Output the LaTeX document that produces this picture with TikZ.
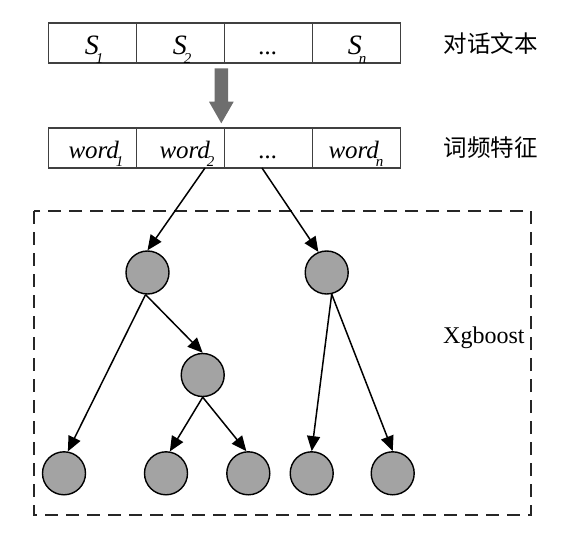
\documentclass[tikz,border=0pt]{standalone}
\usepackage{fontspec}
\setmainfont{Liberation Serif}
\newfontfamily\cjk{Noto Sans CJK SC}
\usetikzlibrary{arrows.meta}
\newcommand{\lowsub}[2]{\kern#1\raisebox{-8.5pt}{\fontsize{15}{15}\selectfont\itshape #2}}
\tikzset{
  cell/.style={draw=black!75, line width=1.1pt, minimum width=88pt, minimum height=40pt, inner sep=0pt, anchor=center},
  celltext/.style={font=\fontsize{25}{25}\selectfont\itshape, anchor=base, inner sep=0pt},
  bigtext/.style={font=\fontsize{28}{28}\selectfont\itshape, anchor=base, inner sep=0pt},
  cjklabel/.style={font=\cjk\fontsize{23.5}{24}\selectfont, anchor=center, inner sep=0pt},
  treenode/.style={circle, draw=black, line width=1.4pt, fill=black!36, minimum size=43pt, inner sep=0pt},
  edge/.style={line width=1.5pt, -{Triangle[length=15pt,width=13pt]}},
  frame/.style={draw=black!85, line width=1.7pt, dash pattern=on 13pt off 8pt},
}
\begin{document}
\begin{tikzpicture}[x=1pt,y=-1pt]
\useasboundingbox (0,0) rectangle (588,540);
% top row
\node[cell] (s1) at (92.7,43) {};
\node[cell] (s2) at (180.5,43) {};
\node[cell] (s3) at (268.3,43) {};
\node[cell] (s4) at (356.2,43) {};
\node[bigtext] (ts1) at (94,55) {S\lowsub{-3pt}{1}};
\node[bigtext] (ts2) at (182,55) {S\lowsub{-3pt}{2}};
\node[celltext] (ts3) at (268.3,55) {...};
\node[bigtext] (ts4) at (357,55) {S\lowsub{-3pt}{n}};
\node[cjklabel] (lab1) at (490.5,43) {对话文本};
% gray arrow
\fill[black!57] (214.7,68.3) -- (228,68.3) -- (228,101.7) -- (233.7,101.7) -- (221.3,123.3) -- (209,101.7) -- (214.7,101.7) -- cycle;
% second row
\node[cell] (w1) at (92.7,148) {};
\node[cell] (w2) at (180.5,148) {};
\node[cell] (w3) at (268.3,148) {};
\node[cell] (w4) at (356.2,148) {};
\node[celltext] (tw1) at (96,158.3) {word\lowsub{-3pt}{1}};
\node[celltext] (tw2) at (187,158.3) {word\lowsub{-3pt}{2}};
\node[celltext] (tw3) at (268.3,158.3) {...};
\node[celltext] (tw4) at (356,158.3) {word\lowsub{-3pt}{n}};
\node[cjklabel] (lab2) at (490.5,148) {词频特征};
% dashed frame
\draw[frame] (34,211) rectangle (531,515);
\node[font=\fontsize{24}{24}\selectfont, anchor=base west, inner sep=0pt] (xg) at (443,343) {Xgboost};
% tree nodes
\node[treenode] (A) at (147.5,272.5) {};
\node[treenode] (B) at (326.7,272.5) {};
\node[treenode] (C) at (202.7,375) {};
\node[treenode] (L1) at (64,473.3) {};
\node[treenode] (L2) at (166,473.3) {};
\node[treenode] (L3) at (248.3,473.3) {};
\node[treenode] (L4) at (311.7,473.3) {};
\node[treenode] (L5) at (392.7,473.3) {};
\coordinate (f1) at (205,168);
\coordinate (f2) at (262,168);
% edges
\draw[edge] (f1) -- (A.north);
\draw[edge] (f2) -- (B.112);
\draw[edge] (A.-95) -- (C.north);
\draw[edge] (A.-95) -- (L1.80);
\draw[edge] (C.south) -- (L2.80);
\draw[edge] (C.south) -- (L3.95);
\draw[edge] (B.-77) -- (L4.north);
\draw[edge] (B.-77) -- (L5.north);
\end{tikzpicture}
\end{document}
